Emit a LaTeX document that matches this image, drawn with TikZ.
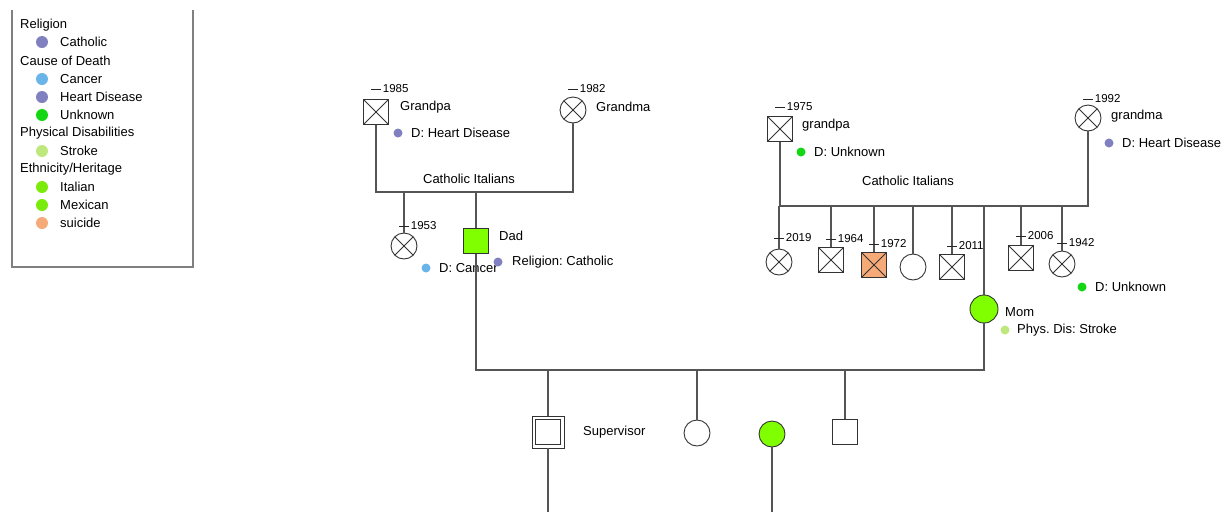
\documentclass[tikz,border=0pt]{standalone}
\usepackage{fontspec}
\setmainfont{Liberation Sans}
\frenchspacing
\usetikzlibrary{positioning}
\definecolor{relig}{RGB}{128,128,192}
\definecolor{cancer}{RGB}{105,180,232}
\definecolor{unknown}{RGB}{20,215,20}
\definecolor{strokec}{RGB}{190,232,125}
\definecolor{italian}{RGB}{125,235,10}
\definecolor{mexican}{RGB}{120,235,10}
\definecolor{suicide}{RGB}{245,170,120}
\definecolor{heritage}{RGB}{128,255,0}
\definecolor{linegray}{RGB}{85,85,85}

% year of death: short tick above a symbol, year to the right
\newcommand{\deathyr}[3]{%
  \draw[tickline] (#1.center) ++(-5,#2) -- ++(10,0) node[yrlbl] {#3};}

\begin{document}
\begin{tikzpicture}[
    x=1pt, y=-1pt,
    line/.style={draw=linegray, line width=1.1pt},
    tickline/.style={draw=black!85, line width=0.8pt},
    male/.style={rectangle, draw=black!80, line width=0.9pt, minimum size=25pt, inner sep=0pt, fill=white},
    female/.style={circle, draw=black!80, line width=0.9pt, minimum size=26pt, inner sep=0pt, fill=white},
    dead/.style={path picture={\draw[black!80, line width=0.9pt]
        (path picture bounding box.north west) -- (path picture bounding box.south east)
        (path picture bounding box.north east) -- (path picture bounding box.south west);}},
    proband/.style={path picture={\draw[black!80, line width=0.9pt]
        ([shift={(3.5pt,3.5pt)}]path picture bounding box.south west)
        rectangle ([shift={(-3.5pt,-3.5pt)}]path picture bounding box.north east);}},
    lbl/.style={anchor=west, inner sep=0pt, font=\fontsize{13}{15}\selectfont},
    yrlbl/.style={anchor=west, inner sep=1.5pt, font=\fontsize{11.5}{13}\selectfont},
    dot/.style={circle, minimum size=9pt, inner sep=0pt},
    ldot/.style={circle, minimum size=12pt, inner sep=0pt}
]
\useasboundingbox (0,0) rectangle (1222,512);

% Legend
\draw[draw=black!50, line width=1.3pt] (12,10) -- (12,267) -- (193,267) -- (193,10);
\node[lbl] (lgRel) at (20,25) {Religion};
\node[ldot, fill=relig] (lgCathDot) at (42,42) {};
\node[lbl] (lgCath) at (60,42) {Catholic};
\node[lbl] (lgCod) at (20,61) {Cause of Death};
\node[ldot, fill=cancer] (lgCancerDot) at (42,79) {};
\node[lbl] (lgCancer) at (60,79) {Cancer};
\node[ldot, fill=relig] (lgHeartDot) at (42,97) {};
\node[lbl] (lgHeart) at (60,97) {Heart Disease};
\node[ldot, fill=unknown] (lgUnkDot) at (42,115) {};
\node[lbl] (lgUnk) at (60,115) {Unknown};
\node[lbl] (lgPhys) at (20,133) {Physical Disabilities};
\node[ldot, fill=strokec] (lgStrokeDot) at (42,151) {};
\node[lbl] (lgStroke) at (60,151) {Stroke};
\node[lbl] (lgEth) at (20,169) {Ethnicity/Heritage};
\node[ldot, fill=italian] (lgItalDot) at (42,187) {};
\node[lbl] (lgItal) at (60,187) {Italian};
\node[ldot, fill=mexican] (lgMexDot) at (42,205) {};
\node[lbl] (lgMex) at (60,205) {Mexican};
\node[ldot, fill=suicide] (lgSuiDot) at (42,223) {};
\node[lbl] (lgSui) at (60,223) {suicide};

% Dad's parents
\node[male, dead] (gpaL) at (376,112) {};
\node[female, dead] (gmaL) at (573,110) {};
\node[lbl] (gpaLname) at (400,107) {Grandpa};
\node[dot, fill=relig] (gpaLdot) at (398,133) {};
\node[lbl] (gpaLcod) at (411,133) {D: Heart Disease};
\node[lbl] (gmaLname) at (596,107) {Grandma};
\node (famL) at (469,179) {\fontsize{13}{15}\selectfont Catholic Italians};
\coordinate (uL) at (476,192);

% Dad and his sister
\node[female, dead] (sisL) at (404,246) {};
\node[male, fill=heritage] (dad) at (476,241) {};
\node[dot, fill=cancer] (sisLdot) at (426,268) {};
\node[lbl] (sisLcod) at (439,268) {D: Cancer};
\node[lbl] (dadname) at (499,236) {Dad};
\node[dot, fill=relig] (daddot) at (498,262) {};
\node[lbl] (dadrel) at (512,262) {Religion: Catholic};

% Mom's parents
\node[male, dead] (gpaR) at (780,129) {};
\node[female, dead] (gmaR) at (1088,118) {};
\node[lbl] (gpaRname) at (802,125) {grandpa};
\node[dot, fill=unknown] (gpaRdot) at (801,152) {};
\node[lbl] (gpaRcod) at (814,152) {D: Unknown};
\node[lbl] (gmaRname) at (1111,116) {grandma};
\node[dot, fill=relig] (gmaRdot) at (1109,143) {};
\node[lbl] (gmaRcod) at (1122,143) {D: Heart Disease};
\node (famR) at (908,181) {\fontsize{13}{15}\selectfont Catholic Italians};
\coordinate (uR) at (780,206);

% Mom and her siblings
\node[female, dead] (sibA) at (779,262) {};
\node[male, dead] (sibB) at (831,260) {};
\node[male, dead, fill=suicide] (sibC) at (874,265) {};
\node[female] (sibD) at (913,267) {};
\node[male, dead] (sibE) at (952,267) {};
\node[male, dead] (sibF) at (1021,258) {};
\node[female, dead] (sibG) at (1062,264) {};
\node[dot, fill=unknown] (sibGdot) at (1082,287) {};
\node[lbl] (sibGcod) at (1095,287) {D: Unknown};
\node[female, fill=heritage, minimum size=28pt] (mom) at (984,309) {};
\node[lbl] (momname) at (1005,312) {Mom};
\node[dot, fill=strokec] (momdot) at (1005,330) {};
\node[lbl] (momdis) at (1017,330) {Phys. Dis: Stroke};

% Children
\coordinate (sib) at (548,370);
\node[male, proband, minimum size=32pt] (sup) at (548,432) {};
\node[lbl] (supname) at (583,432) {Supervisor};
\node[female] (kidB) at (697,433) {};
\node[female, fill=heritage] (kidC) at (772,434) {};
\node[male] (kidD) at (845,432) {};
\coordinate (supend) at (548,512);
\coordinate (kidCend) at (772,512);

% Lines
\draw[line] (gpaL.south) -- (gpaL.south |- uL) -- (gmaL.south |- uL) -- (gmaL.south);
\draw[line] (sisL.north |- uL) -- (sisL.north);
\draw[line] (uL) -- (dad.north);
\draw[line] (gpaR.south) -- (gpaR.south |- uR) -- (gmaR.south |- uR) -- (gmaR.south);
\draw[line] (sibA.north |- uR) -- (sibA.north);
\draw[line] (sibB.north |- uR) -- (sibB.north);
\draw[line] (sibC.north |- uR) -- (sibC.north);
\draw[line] (sibD.north |- uR) -- (sibD.north);
\draw[line] (sibE.north |- uR) -- (sibE.north);
\draw[line] (sibF.north |- uR) -- (sibF.north);
\draw[line] (sibG.north |- uR) -- (sibG.north);
\draw[line] (mom.north |- uR) -- (mom.north);
\draw[line] (dad.south) -- (dad.south |- sib) -- (mom.south |- sib) -- (mom.south);
\draw[line] (sib) -- (sup.north);
\draw[line] (kidB.north |- sib) -- (kidB.north);
\draw[line] (kidD.north |- sib) -- (kidD.north);
\draw[line] (sup.south) -- (supend);
\draw[line] (kidC.south) -- (kidCend);

% Years of death
\deathyr{gpaL}{-23}{1985}
\deathyr{gmaL}{-21}{1982}
\deathyr{sisL}{-20}{1953}
\deathyr{gpaR}{-22}{1975}
\deathyr{gmaR}{-19}{1992}
\deathyr{sibA}{-24}{2019}
\deathyr{sibB}{-21}{1964}
\deathyr{sibC}{-21}{1972}
\deathyr{sibE}{-21}{2011}
\deathyr{sibF}{-22}{2006}
\deathyr{sibG}{-21}{1942}

\end{tikzpicture}
\end{document}
